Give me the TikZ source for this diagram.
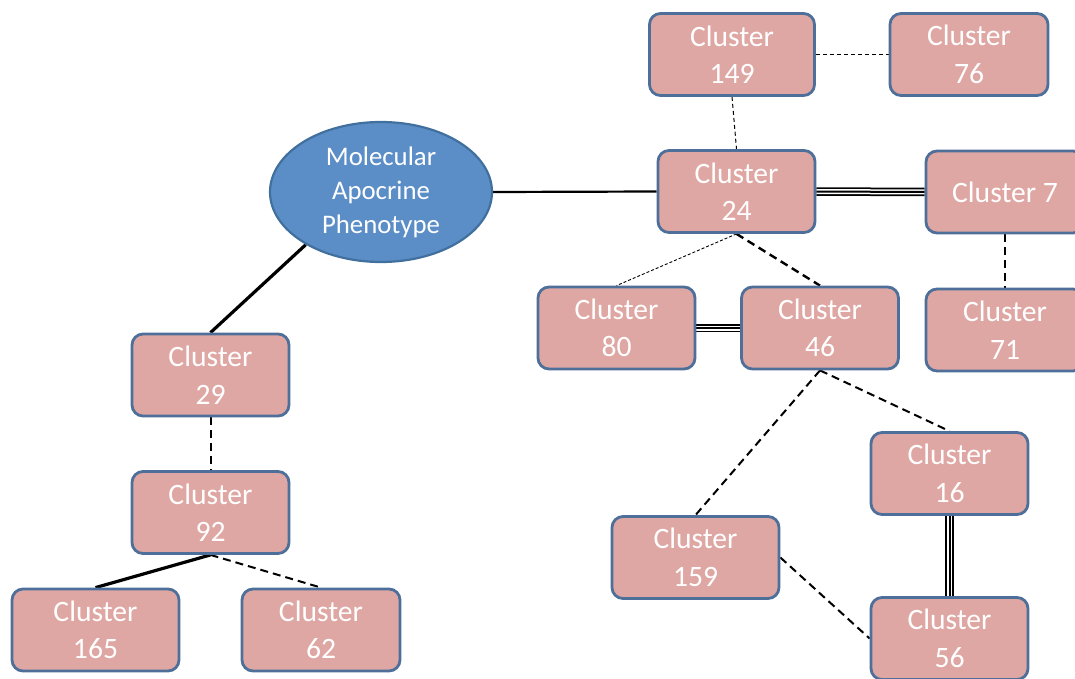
\documentclass[tikz,border=0pt]{standalone}
\usepackage{fontspec}
\setmainfont{Carlito}
\usetikzlibrary{shapes.geometric,backgrounds}
\definecolor{boxfill}{HTML}{DFA7A3}
\definecolor{boxline}{HTML}{4D6F99}
\definecolor{ellfill}{HTML}{5B8EC7}
\definecolor{ellline}{HTML}{41709E}
\begin{document}
\begin{tikzpicture}[x=1pt,y=-1pt,
  cluster/.style={draw=boxline, fill=boxfill, line width=2.8pt,
    rounded corners=11pt, minimum width=157pt, minimum height=82pt,
    inner sep=0pt, align=center, text=white,
    font=\fontsize{29.6}{37.5}\selectfont},
  phenotype/.style={ellipse, draw=ellline, fill=ellfill, line width=2.2pt,
    minimum width=222pt, minimum height=140pt, inner sep=0pt,
    align=center, text=white, font=\fontsize{26.8}{34}\selectfont},
  strong/.style={draw=black, line width=3.2pt},
  plain/.style={draw=black, line width=2.2pt},
  dashlink/.style={draw=black, line width=2pt, dash pattern=on 8pt off 5pt},
  thindash/.style={draw=black, line width=1pt, dash pattern=on 4pt off 3pt},
  finedash/.style={draw=black, line width=0.9pt, dash pattern=on 3pt off 2pt},
  triple/.style={draw=black, line width=8.5pt,
    postaction={draw=white, line width=5pt},
    postaction={draw=black, line width=2pt}},
]
\useasboundingbox (0,0) rectangle (1075,679);

% nodes
\node[phenotype] (map) at (381,192) {Molecular\\Apocrine\\Phenotype};

\node[cluster, minimum width=165pt] (c149) at (732,54.5) {Cluster\\149};
\node[cluster, minimum width=158pt] (c76)  at (969,54.5) {Cluster\\76};
\node[cluster] (c24)  at (736.5,191.5) {Cluster\\24};
\node[cluster, minimum width=158pt] (c7)   at (1005,192) {Cluster 7};
\node[cluster] (c80)  at (616.5,328) {Cluster\\80};
\node[cluster] (c46)  at (820,328) {Cluster\\46};
\node[cluster, minimum width=158pt] (c71)  at (1005,330) {Cluster\\71};
\node[cluster] (c29)  at (210.5,375) {Cluster\\29};
\node[cluster] (c92)  at (210.5,512.5) {Cluster\\92};
\node[cluster, minimum width=167pt] (c165) at (95.5,630) {Cluster\\165};
\node[cluster, minimum width=158pt] (c62)  at (321,630) {Cluster\\62};
\node[cluster] (c16)  at (949.5,473.5) {Cluster\\16};
\node[cluster, minimum width=167pt] (c159) at (695.5,557.5) {Cluster\\159};
\node[cluster] (c56)  at (949.5,638.5) {Cluster\\56};

% connectors
\begin{pgfonlayer}{background}
  \draw[plain]  (map.east) -- (c24.west);
  \draw[strong] (map.-145) -- (c29.north);
  \draw[dashlink] (c29.south) -- (c92.north);
  \draw[strong] (c92.south) -- (c165.north);
  \draw[dashlink] (c92.south) -- (c62.north);

  \draw[thindash] (c149.south) -- (c24.north);
  \draw[thindash] (c149.east) -- (c76.west);
  \draw[triple] (c24.east) -- (c7.west);
  \draw[dashlink] (c7.south) -- (c71.north);

  \draw[finedash] (c24.south) -- (c80.north);
  \draw[dashlink, line width=2.4pt] (c24.south) -- (c46.north);
  \draw[triple] (c80.east) -- (c46.west);

  \draw[dashlink] (c46.south) -- (c16.north);
  \draw[dashlink] (c46.south) -- (c159.north);
  \draw[dashlink] (c159.east) -- (c56.west);
  \draw[triple] (c16.south) -- (c56.north);
\end{pgfonlayer}
\end{tikzpicture}
\end{document}
